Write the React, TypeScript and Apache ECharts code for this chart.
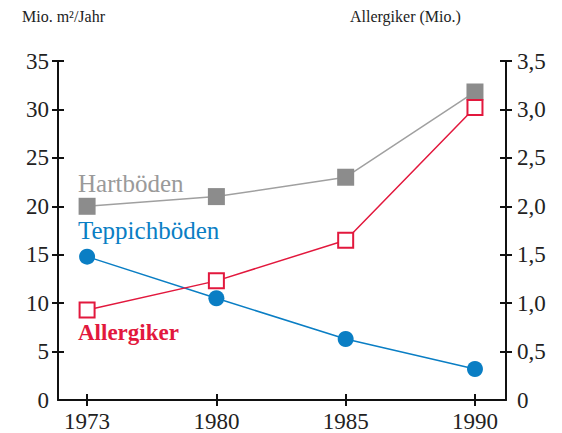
import React, { useEffect, useRef } from "react";
import * as echarts from "echarts";

const years = ["1973", "1980", "1985", "1990"];
const hartboeden = [20, 21, 23, 31.8];
const teppichboeden = [14.8, 10.5, 6.3, 3.2];
const allergiker = [0.93, 1.23, 1.65, 3.02];
const leftTicks = [5, 10, 15, 20, 25, 30, 35];
const leftLabels = [0, 5, 10, 15, 20, 25, 30, 35];
const rightTicks = [0.5, 1, 1.5, 2, 2.5, 3, 3.5];
const rightLabels = [0, 0.5, 1, 1.5, 2, 2.5, 3, 3.5];

const FONT = "'Liberation Serif', 'DejaVu Serif', serif";
const GRAY = "#8c8c8c";
const GRAY_LINE = "#a0a0a0";
const BLUE = "#0a7ec4";
const RED = "#e2183d";
const AX = "#111";

export default function App() {
  const ref = useRef<HTMLDivElement>(null);
  useEffect(() => {
    if (!ref.current) return;
    const chart = echarts.init(ref.current, null, { renderer: "svg" });
    const idx = years.map((_, i) => i);
    const xBase = {
      type: "value",
      min: -0.225,
      max: 3.24,
      position: "bottom",
      splitLine: { show: false },
    };
    const yLeftBase = { type: "value", min: 0, max: 35, position: "left", splitLine: { show: false } };
    const yRightBase = { type: "value", min: 0, max: 3.5, position: "right", splitLine: { show: false } };
    const tickStyle = { color: AX, width: 2 };
    const labelBase = { fontFamily: FONT, fontSize: 23, color: "#222" };
    chart.setOption({
      animation: false,
      grid: { left: 58, right: 56, top: 61, bottom: 33 },
      xAxis: [
        {
          ...xBase,
          axisLine: { show: true, onZero: false, lineStyle: { color: AX, width: 2 } },
          axisTick: { show: false },
          axisLabel: {
            ...labelBase,
            show: true,
            customValues: idx,
            formatter: (v: number) => years[Math.round(v)],
            margin: 10,
          },
        },
        {
          ...xBase,
          offset: -6,
          axisLine: { show: false, onZero: false },
          axisTick: { show: true, inside: false, length: 12, customValues: idx, lineStyle: tickStyle },
          axisLabel: { show: false },
        },
      ],
      yAxis: [
        {
          ...yLeftBase,
          axisLine: { show: true, onZero: false, lineStyle: { color: AX, width: 2 } },
          axisTick: { show: false },
          axisLabel: {
            ...labelBase,
            show: true,
            customValues: leftLabels,
            formatter: (v: number) => String(v),
            margin: 9,
          },
        },
        {
          ...yRightBase,
          axisLine: { show: true, onZero: false, lineStyle: { color: AX, width: 2 } },
          axisTick: { show: false },
          axisLabel: {
            ...labelBase,
            show: true,
            customValues: rightLabels,
            formatter: (v: number) => (v === 0 ? "0" : v.toFixed(1).replace(".", ",")),
            margin: 11,
          },
        },
        {
          ...yLeftBase,
          offset: -6,
          axisLine: { show: false, onZero: false },
          axisTick: { show: true, inside: false, length: 12, customValues: leftTicks, lineStyle: tickStyle },
          axisLabel: { show: false },
        },
        {
          ...yRightBase,
          offset: -6,
          axisLine: { show: false, onZero: false },
          axisTick: { show: true, inside: false, length: 12, customValues: rightTicks, lineStyle: tickStyle },
          axisLabel: { show: false },
        },
      ],
      series: [
        {
          name: "Hartböden",
          type: "line",
          xAxisIndex: 0,
          yAxisIndex: 0,
          data: hartboeden.map((v, i) => [i, v]),
          symbol: "rect",
          symbolSize: 17,
          lineStyle: { color: GRAY_LINE, width: 1.5 },
          itemStyle: { color: GRAY },
        },
        {
          name: "Teppichböden",
          type: "line",
          xAxisIndex: 0,
          yAxisIndex: 0,
          data: teppichboeden.map((v, i) => [i, v]),
          symbol: "circle",
          symbolSize: 16,
          lineStyle: { color: BLUE, width: 1.5 },
          itemStyle: { color: BLUE },
        },
        {
          name: "Allergiker",
          type: "line",
          xAxisIndex: 0,
          yAxisIndex: 1,
          data: allergiker.map((v, i) => [i, v]),
          symbol: "rect",
          symbolSize: 15,
          lineStyle: { color: RED, width: 1.5 },
          itemStyle: { color: "#fff", borderColor: RED, borderWidth: 2 },
        },
      ],
      graphic: [
        { type: "text", left: 22, top: 8, style: { text: "Mio. m²/Jahr", fontFamily: FONT, fontSize: 16, fill: "#222" } },
        { type: "text", left: 350, top: 8, style: { text: "Allergiker (Mio.)", fontFamily: FONT, fontSize: 16, fill: "#222" } },
        { type: "text", left: 78, top: 171, style: { text: "Hartböden", fontFamily: FONT, fontSize: 25, fill: "#9a9a9a" } },
        { type: "text", left: 78, top: 218, style: { text: "Teppichböden", fontFamily: FONT, fontSize: 25, fill: BLUE } },
        { type: "text", left: 78, top: 321, style: { text: "Allergiker", fontFamily: FONT, fontSize: 23, fontWeight: "bold", fill: RED } },
      ],
    });
    return () => chart.dispose();
  }, []);
  return <div ref={ref} style={{ width: 562, height: 433, position: "absolute", left: 0, top: 0 }} />;
}
